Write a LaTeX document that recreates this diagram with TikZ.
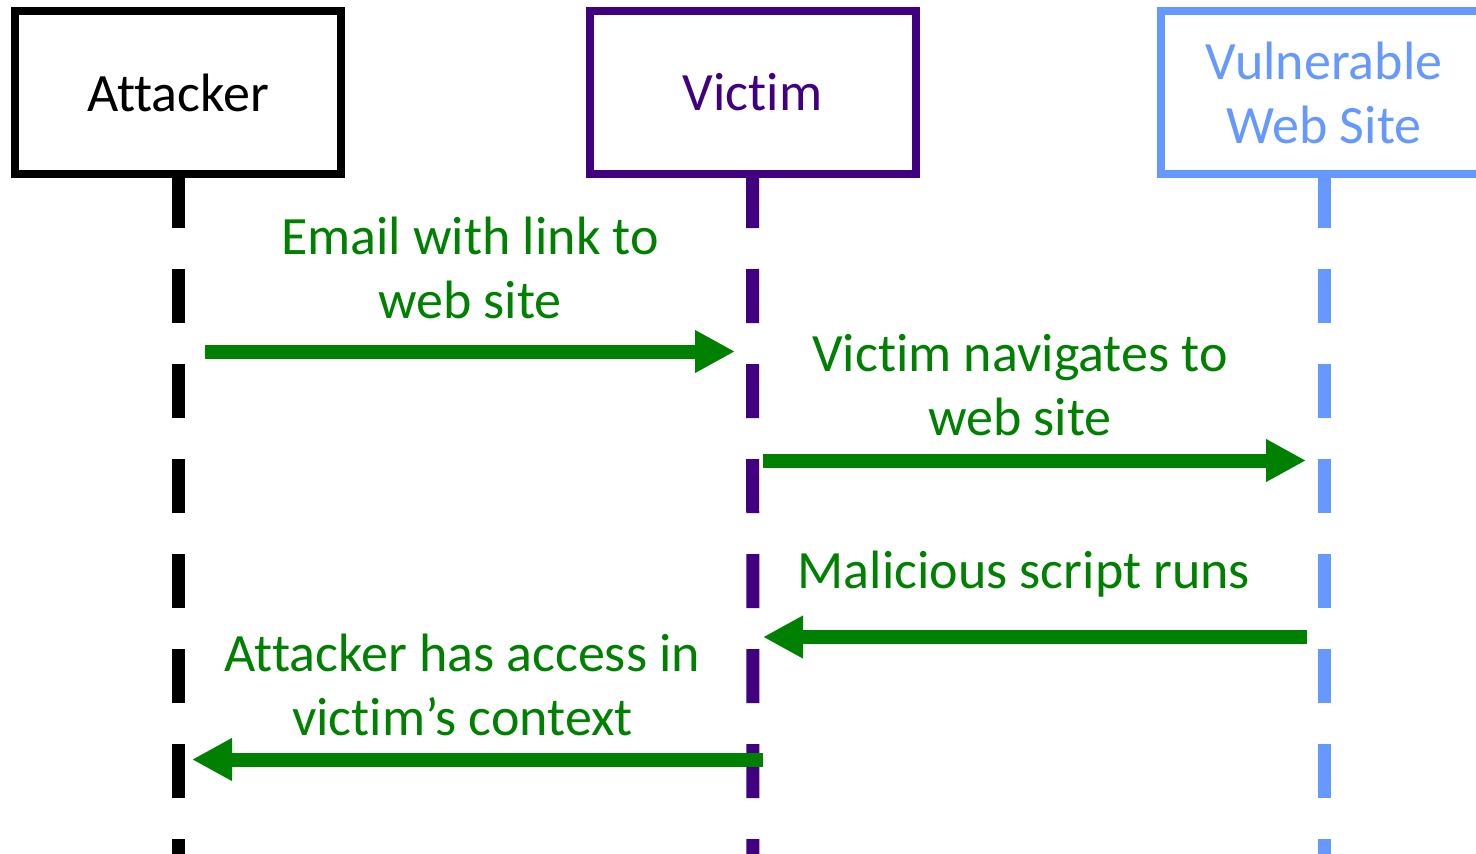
\documentclass[tikz,border=0pt]{standalone}
\usepackage{fontspec}
\setmainfont{Carlito}[Ligatures=CommonOff]
\usetikzlibrary{arrows.meta}
\definecolor{msggreen}{RGB}{0,128,0}
\definecolor{victimpurple}{RGB}{64,0,128}
\definecolor{siteblue}{RGB}{102,153,255}
\begin{document}
\begin{tikzpicture}[x=1pt,y=-1pt,
  bigtext/.style={font=\fontsize{54}{64}\selectfont},
  actor/.style={draw=#1, text=#1, line width=8pt, fill=white,
    minimum width=326pt, minimum height=163pt, inner sep=0pt, outer sep=0pt,
    align=center, bigtext},
  lifeline/.style={draw=#1, line width=13pt, dash pattern=on 54pt off 41pt},
  msg/.style={draw=msggreen, line width=14pt,
    -{Triangle[length=40pt,width=40pt]}},
  msglabel/.style={text=msggreen, align=center, inner sep=0pt, anchor=base, bigtext}
]
\useasboundingbox (0,0) rectangle (1476,854);

% actors
\node[actor=black]        (att) at (178,92.5)  {Attacker};
\node[actor=victimpurple] (vic) at (752.5,92.5) {Victim};
\node[actor=siteblue]     (web) at (1324,92.5) {Vulnerable\\Web Site};

% lifeline ends below the page edge
\coordinate (attEnd) at (178,870);
\coordinate (vicEnd) at (753,870);
\coordinate (webEnd) at (1324,870);

\draw[lifeline=black]        (att.south) -- (attEnd);
\draw[lifeline=victimpurple] (vic.south) -- (vicEnd);
\draw[lifeline=siteblue]     (web.south) -- (webEnd);

% message end points
\coordinate (m1s) at (205,351.5);  \coordinate (m1e) at (735,351.5);
\coordinate (m2s) at (763,460.5);  \coordinate (m2e) at (1306,460.5);
\coordinate (m3s) at (1307,637);   \coordinate (m3e) at (763,637);
\coordinate (m4s) at (763,759.5);  \coordinate (m4e) at (192,759.5);

\draw[msg] (m1s) -- (m1e);
\draw[msg] (m2s) -- (m2e);
\draw[msg] (m3s) -- (m3e);
\draw[msg] (m4s) -- (m4e);

% message labels (base anchor sits on the last line)
\node[msglabel] (l1) at (470,318.3)  {Email with link to\\web site};
\node[msglabel] (l2) at (1020,435)   {Victim navigates to\\web site};
\node[msglabel] (l3) at (1024,588.3) {Malicious script runs};
\node[msglabel] (l4) at (462.5,735)  {Attacker has access in\\victim’s context};
\end{tikzpicture}
\end{document}
